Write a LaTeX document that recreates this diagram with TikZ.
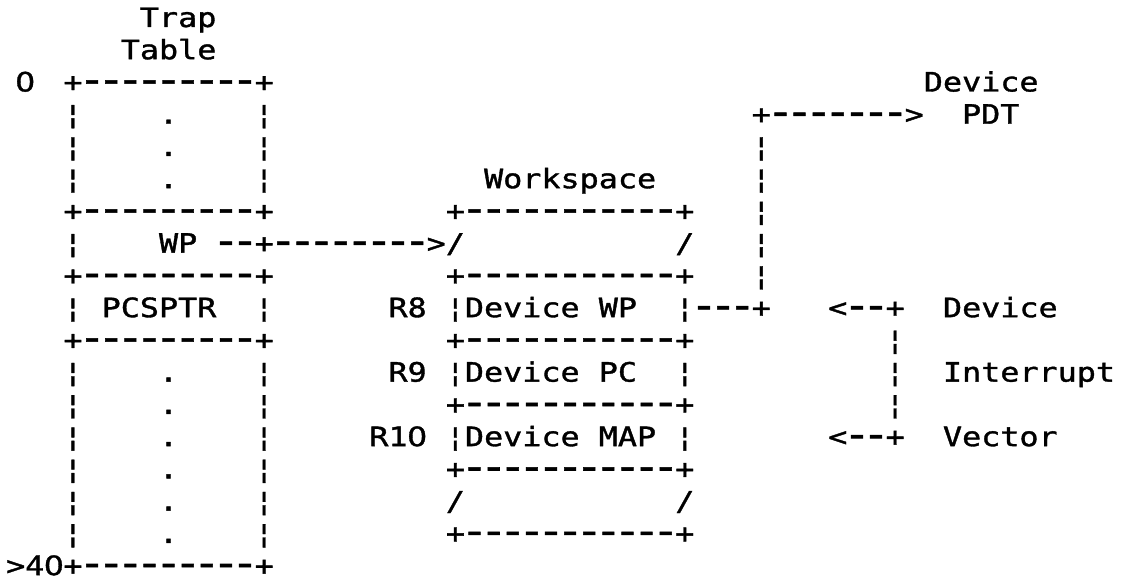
\documentclass[tikz,border=0pt]{standalone}
\usepackage{fontspec}
\usepackage{graphicx}
% typewriter-like face, widened so that one character cell is one grid column
\newfontfamily\asciifont[FakeStretch=1.19,FakeBold=1.3]{DejaVu Sans Mono}
% plain (undotted) zero
\newfontfamily\zerofont[FakeStretch=1.19,FakeBold=1.3]{DejaVu Sans}
\newlength\pitch
\setlength\pitch{19.12pt}
% one hyphen cell, drawn a little longer and heavier, like a typewriter dash
\newcommand\hy{\makebox[\pitch][c]{\raisebox{-1.5pt}{\scalebox{1.45}[1.5]{-}}}}
\newcommand\dashes[1]{\foreach \k in {1,...,#1}{\hy}}
\newcommand\zero{\makebox[\pitch][c]{\zerofont 0}}
% blank character cells
\newcommand\gaps[1]{\hspace*{#1\pitch}}
\tikzset{
  asc/.style={inner sep=0pt, outer sep=0pt, anchor=base west,
    font=\asciifont\fontsize{26.69}{32}\selectfont},
  ascc/.style={asc, anchor=base},
}
\begin{document}
\begin{tikzpicture}[x=1pt,y=1pt]
\useasboundingbox[fill=white] (0,0) rectangle (1121,580);
% character grid: x = column, y = line (downwards)
\begin{scope}[shift={(63.44pt,553pt)}, x=19.12pt, y=-32.24pt]
  % trap table
  \node[asc] (trap)   at (4,0) {Trap};
  \node[asc] (table)  at (3,1) {Table};
  \node[ascc] (zero)  at (-2,2) {\zero};
  \node[asc] (tt0)    at (0,2) {+\dashes{9}+};
  \node[asc] (tt1)    at (0,3) {¦\gaps{4}.\gaps{4}¦};
  \node[asc] (tt2)    at (0,4) {¦\gaps{4}.\gaps{4}¦};
  \node[asc] (tt3)    at (0,5) {¦\gaps{4}.\gaps{4}¦};
  \node[asc] (tt4)    at (0,6) {+\dashes{9}+};
  \node[asc] (wp)     at (0,7) {¦\gaps{4}WP\gaps{1}\dashes{2}+\dashes{8}>/};
  \node[asc] (tt5)    at (0,8) {+\dashes{9}+};
  \node[asc] (pcsptr) at (0,9) {¦\gaps{1}PCSPTR\gaps{2}¦};
  \node[asc] (tt6)    at (0,10) {+\dashes{9}+};
  \node[asc] (tt7)    at (0,11) {¦\gaps{4}.\gaps{4}¦};
  \node[asc] (tt8)    at (0,12) {¦\gaps{4}.\gaps{4}¦};
  \node[asc] (tt9)    at (0,13) {¦\gaps{4}.\gaps{4}¦};
  \node[asc] (tt10)   at (0,14) {¦\gaps{4}.\gaps{4}¦};
  \node[asc] (tt11)   at (0,15) {¦\gaps{4}.\gaps{4}¦};
  \node[asc] (tt12)   at (0,16) {¦\gaps{4}.\gaps{4}¦};
  \node[asc] (tt13)   at (-3,17) {>4\zero+\dashes{9}+};
  % workspace
  \node[asc] (ws)     at (22,5) {Workspace};
  \node[asc] (ws0)    at (20,6) {+\dashes{11}+};
  \node[asc] (ws1)    at (32,7) {/};
  \node[asc] (ws2)    at (20,8) {+\dashes{11}+};
  \node[asc] (r8)     at (17,9) {R8\gaps{1}¦Device\gaps{1}WP\gaps{2}¦\dashes{3}+};
  \node[asc] (ws3)    at (20,10) {+\dashes{11}+};
  \node[asc] (r9)     at (17,11) {R9\gaps{1}¦Device\gaps{1}PC\gaps{2}¦};
  \node[asc] (ws4)    at (20,12) {+\dashes{11}+};
  \node[asc] (r10)    at (16,13) {R1\zero\gaps{1}¦Device\gaps{1}MAP\gaps{1}¦};
  \node[asc] (ws5)    at (20,14) {+\dashes{11}+};
  \node[asc] (ws6)    at (20,15) {/\gaps{11}/};
  \node[asc] (ws7)    at (20,16) {+\dashes{11}+};
  % link up to the device PDT
  \node[asc] (pdtarr) at (36,3) {+\dashes{7}>};
  \foreach \r in {4,...,8} \node[asc] (up\r) at (36,\r) {¦};
  \node[asc] (pdta)   at (45,2) {Device};
  \node[asc] (pdtb)   at (47,3) {PDT};
  % device interrupt vector
  \node[asc] (iv0)    at (40,9) {<\dashes{2}+};
  \foreach \r in {10,...,12} \node[asc] (iv\r) at (43,\r) {¦};
  \node[asc] (iv1)    at (40,13) {<\dashes{2}+};
  \node[asc] (div)    at (46,9) {Device};
  \node[asc] (intr)   at (46,11) {Interrupt};
  \node[asc] (vec)    at (46,13) {Vector};
\end{scope}
\end{tikzpicture}
\end{document}
